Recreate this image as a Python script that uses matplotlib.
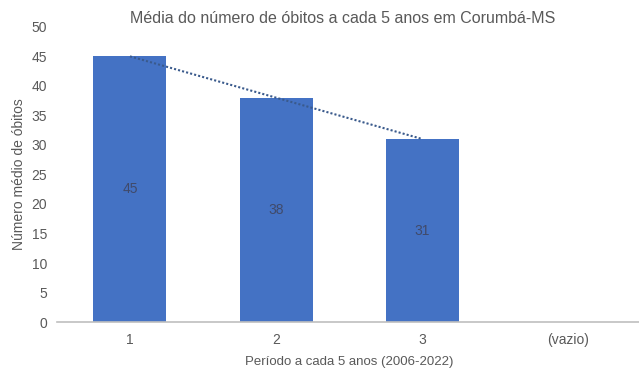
import matplotlib
matplotlib.use("Agg")
import matplotlib.pyplot as plt
import numpy as np

plt.rcParams['font.family'] = ['Liberation Sans', 'DejaVu Sans']

categories = ["1", "2", "3", "(vazio)"]
values = [45, 38, 31]
trend = [45, 38, 31]
yticks = [0, 5, 10, 15, 20, 25, 30, 35, 40, 45, 50]

fig = plt.figure(figsize=(6.39, 3.78), dpi=100)
ax = fig.add_axes([0.089, 0.148, 0.915, 0.781])

x = np.arange(len(categories))
bars = ax.bar(x[:len(values)], values, width=0.5, color="#4472C4", zorder=2)
for xi, v in zip(x, values):
    ax.text(xi, v / 2, str(v), ha="center", va="center", color="#404A6A", fontsize=10)

ax.plot(x[:len(trend)], trend, linestyle=(0, (1, 1)), color="#3A5A8C", linewidth=1.5, zorder=3)

ax.set_xlim(-0.5, len(categories) - 0.5)
ax.set_ylim(0, 50)
ax.set_yticks(yticks)
ax.set_xticks(x)
ax.set_xticklabels(categories)
ax.tick_params(axis="both", length=0, labelsize=10, colors="#595959")
ax.tick_params(axis="x", pad=8)
ax.tick_params(axis="y", pad=7)
for s in ["top", "right", "left"]:
    ax.spines[s].set_visible(False)
ax.spines["bottom"].set_color("#BFBFBF")
ax.spines["bottom"].set_linewidth(1.2)

ax.set_ylabel("Número médio de óbitos", fontsize=10, color="#595959", labelpad=4)
ax.set_xlabel("Período a cada 5 anos (2006-2022)", fontsize=9.5, color="#595959", labelpad=6)
fig.text(0.537, 0.952, "Média do número de óbitos a cada 5 anos em Corumbá-MS",
         ha="center", va="center", fontsize=11.5, color="#595959")

fig.savefig("out.png", dpi=100)
